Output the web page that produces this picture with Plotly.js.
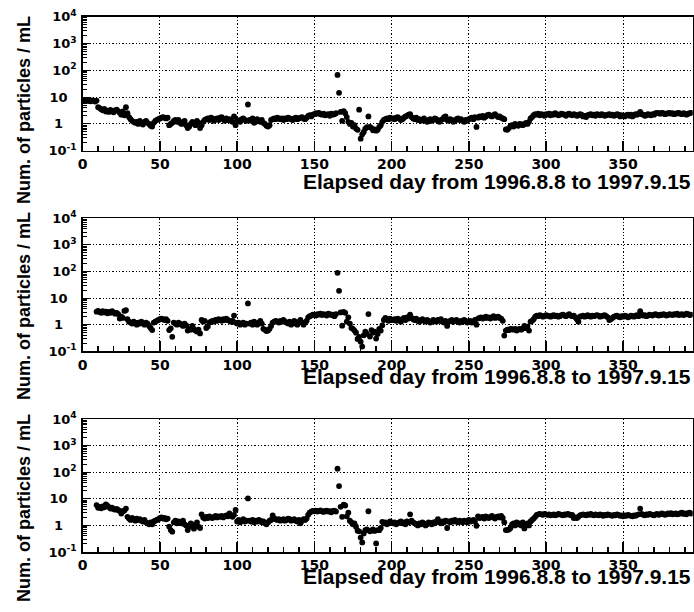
<!DOCTYPE html>
<html>
<head>
<meta charset="utf-8">
<script src="https://cdn.plot.ly/plotly-3.0.1.min.js"></script>
<style>html,body{margin:0;padding:0;background:#fff;}#chart{width:694px;height:612px;}</style>
</head>
<body>
<div id="chart"></div>
<script>
// ---------------- DATA ----------------
const days = [1,2,3,4,5,6,7,8,9,10,11,12,13,14,15,16,17,18,19,20,21,22,23,24,25,26,27,28,29,30,31,32,33,34,35,36,37,38,39,40,41,42,43,44,45,46,47,48,49,50,
51,52,53,54,55,56,57,58,59,60,61,62,63,64,65,66,67,68,69,70,71,72,73,74,75,76,77,78,79,80,81,82,83,84,85,86,87,88,89,90,91,92,93,94,95,96,97,98,99,100,
101,102,103,104,105,106,107,108,109,110,111,112,113,114,115,116,117,118,119,120,121,122,123,124,125,126,127,128,129,130,131,132,133,134,135,136,137,138,139,140,141,142,143,144,145,146,147,148,149,150,
151,152,153,154,155,156,157,158,159,160,161,162,163,164,165,166,167,168,169,170,171,172,173,174,175,176,177,178,179,180,181,182,183,184,185,186,187,188,189,190,191,192,193,194,195,196,197,198,199,200,
201,202,203,204,205,206,207,208,209,210,211,212,213,214,215,216,217,218,219,220,221,222,223,224,225,226,227,228,229,230,231,232,233,234,235,236,237,238,239,240,241,242,243,244,245,246,247,248,249,250,
251,252,253,254,255,256,257,258,259,260,261,262,263,264,265,266,267,268,269,270,271,272,273,274,275,276,277,278,279,280,281,282,283,284,285,286,287,288,289,290,291,292,293,294,295,296,297,298,299,300,
301,302,303,304,305,306,307,308,309,310,311,312,313,314,315,316,317,318,319,320,321,322,323,324,325,326,327,328,329,330,331,332,333,334,335,336,337,338,339,340,341,342,343,344,345,346,347,348,349,350,
351,352,353,354,355,356,357,358,359,360,361,362,363,364,365,366,367,368,369,370,371,372,373,374,375,376,377,378,379,380,381,382,383,384,385,386,387,388,389,390,391,392,393,394];

// Panel 1: days 1..394
const values1 = [
7.4,7.8,7.2,7.6,7.0,7.5,7.3,6.8,7.4,
4.2,3.9,3.5,3.2,3.6,2.9,3.1,2.8,3.3,3.0,2.7,3.2,3.4,3.0,2.6,2.2,2.9,2.1,4.2,2.5,
1.8,1.5,1.3,1.2,1.1,1.2,1.0,1.3,1.1,0.95,1.2,1.3,1.1,1.0,0.85,0.8,1.1,1.3,1.4,1.5,1.6,
1.7,1.8,1.7,1.6,1.7,
0.9,1.0,1.1,1.3,1.4,
1.2,1.4,1.1,1.0,1.2,1.3,0.9,0.7,0.8,1.0,1.2,1.1,0.9,1.3,1.1,0.7,0.9,1.2,1.4,
1.5,1.6,1.4,1.7,1.6,1.3,1.5,1.6,1.4,1.7,1.8,1.5,1.3,1.6,1.4,1.5,1.3,1.2,1.9,0.9,
1.4,1.3,1.2,1.5,1.6,1.4,1.3,
5.3,
1.4,1.3,1.6,1.1,1.2,1.5,1.3,1.2,1.4,1.1,1.0,0.85,0.8,0.9,
1.4,1.5,1.6,1.5,1.7,1.6,1.5,1.6,1.4,1.6,1.5,1.7,1.6,1.5,1.4,1.6,1.7,1.5,1.6,1.7,1.8,1.6,1.5,1.7,
2.0,2.1,1.9,2.2,2.3,2.5,2.4,2.6,2.3,2.2,2.4,2.1,2.2,2.3,2.0,2.4,2.2,2.3,2.5,
67,14.4,
2.8,1.3,3.0,2.5,1.8,1.2,1.0,1.1,0.8,0.9,0.67,0.6,3.4,0.28,0.41,0.5,0.67,0.75,1.9,0.77,0.7,0.58,0.62,0.56,0.6,0.77,0.9,1.2,1.4,1.5,1.6,1.5,1.7,1.6,
1.6,1.5,1.7,1.8,1.6,1.4,1.5,1.7,1.9,2.0,2.2,2.3,1.8,1.6,1.5,1.7,1.4,1.5,1.3,1.4,1.6,1.3,1.2,1.4,1.5,1.3,1.4,1.6,1.5,1.3,1.2,1.4,1.5,1.8,1.9,1.4,1.3,1.5,1.4,1.2,1.3,1.5,1.6,1.4,1.5,1.3,1.2,1.4,1.3,1.5,
1.6,1.7,1.5,1.8,0.77,1.7,1.9,1.8,2.0,1.7,1.9,2.1,2.2,2.0,1.9,2.1,2.3,2.0,1.8,1.9,1.7,1.6,1.5,
0.62,0.6,0.7,0.85,0.9,0.8,1.0,0.9,0.85,1.0,0.95,0.9,1.0,1.1,1.0,1.2,1.6,
1.8,2.1,2.3,2.2,2.4,2.1,2.3,2.2,2.0,2.3,
2.2,2.4,2.1,2.3,2.2,2.5,2.3,2.1,2.2,2.4,
2.3,2.2,2.0,2.3,2.4,2.2,2.1,2.3,2.2,2.0,
2.1,2.3,2.2,1.9,2.0,1.8,2.1,2.2,2.3,2.1,
2.2,2.0,2.3,2.2,2.1,2.3,2.2,2.0,2.1,2.2,
2.3,2.1,2.2,2.0,2.1,2.3,2.2,1.9,2.1,2.0,
1.9,2.1,2.2,2.0,2.2,1.9,2.1,2.3,2.2,2.4,
2.8,2.3,2.2,2.0,2.1,2.3,2.2,2.1,2.3,2.2,
2.5,2.6,2.5,2.4,2.6,2.5,2.3,2.4,2.5,2.6,
2.4,2.5,2.3,2.4,2.5,2.6,2.4,2.3,2.5,2.4,
2.2,2.4,2.5,2.6];

// Panel 2: days 9..394
const values2 = [
3.1,3.3,3.0,2.8,3.2,2.9,3.1,2.7,3.0,2.8,3.2,2.9,2.6,2.8,2.5,1.7,2.0,1.8,3.3,3.5,
1.6,1.3,1.2,1.1,1.3,1.2,1.0,1.2,1.1,1.3,1.1,1.0,1.2,1.1,
0.9,0.75,0.63,
1.2,1.3,1.4,1.5,1.6,1.7,1.6,1.5,1.6,1.4,
0.63,0.73,0.35,
1.2,1.1,1.0,1.2,1.1,1.0,0.9,1.1,0.95,0.6,0.7,0.65,0.9,0.7,0.6,0.55,0.65,0.47,
1.5,
1.3,1.4,0.75,0.85,1.2,1.3,1.4,1.3,1.5,1.4,1.6,1.5,1.4,1.6,1.5,1.7,1.5,1.4,1.3,1.4,2.2,1.2,
1.1,1.2,1.0,1.1,1.2,1.0,1.1,
6.3,
1.1,1.2,1.0,1.3,1.1,1.0,1.2,1.4,1.1,
0.7,0.65,0.58,0.6,0.7,0.9,
1.2,1.3,1.4,1.3,1.2,1.4,1.3,1.5,1.3,1.2,1.1,1.3,1.0,1.2,1.4,1.1,1.0,1.3,1.5,1.2,1.0,1.2,1.4,
1.9,2.1,2.2,2.4,2.3,2.2,2.5,2.4,2.6,2.3,2.5,2.4,2.2,2.6,2.5,2.3,2.4,2.1,2.5,
89,18.7,
2.9,0.92,3.0,2.8,1.3,1.9,1.1,0.75,0.7,0.6,0.5,0.29,0.35,0.23,0.15,0.4,0.55,0.45,2.5,0.36,0.63,0.5,0.55,0.3,0.45,0.7,0.6,0.95,1.5,1.8,1.6,1.4,1.7,1.5,
1.5,1.6,1.4,1.7,1.5,1.3,1.6,1.8,1.5,1.9,
1.7,2.4,1.8,1.6,1.5,1.7,1.4,1.3,1.5,1.6,
1.4,1.3,1.5,1.4,1.2,1.3,1.5,1.4,1.3,1.5,
1.4,1.6,1.3,1.2,1.4,0.9,1.3,1.4,1.5,1.3,
1.4,1.5,1.3,1.2,1.4,1.3,1.5,1.4,1.2,1.3,
1.4,1.2,1.3,1.5,1.0,1.7,1.8,1.9,1.7,1.8,
2.0,1.8,1.9,1.7,1.9,2.1,1.8,1.9,2.0,1.8,1.7,1.4,
0.39,0.6,0.65,0.62,0.7,0.68,0.65,0.7,0.6,0.66,0.7,0.65,0.72,0.9,0.75,0.85,0.6,
1.3,1.4,1.6,
2.0,2.2,2.1,2.3,2.2,2.0,2.1,2.3,2.2,2.1,
2.0,2.2,2.3,2.1,2.2,2.0,2.1,2.3,2.4,2.2,
2.1,2.3,2.5,2.2,2.1,2.2,1.9,1.6,1.3,2.0,
2.1,2.2,2.0,2.1,2.3,2.1,2.0,2.2,2.1,2.2,
2.3,2.2,2.0,2.1,2.2,2.3,2.1,1.9,1.5,1.6,
1.8,2.0,2.1,2.2,2.0,1.9,2.1,2.0,2.2,2.1,
1.9,2.0,2.2,2.1,2.0,2.2,2.3,2.1,3.2,2.4,
2.2,2.3,2.1,2.2,2.4,2.3,2.2,2.4,2.5,2.3,
2.2,2.4,2.3,2.5,2.4,2.2,2.3,2.5,2.4,2.3,
2.5,2.4,2.6,2.3,2.4,2.5,2.3,2.4,2.6,2.5,
2.3,2.4];

// Panel 3: days 9..394
const values3 = [
5.8,4.6,5.0,4.4,5.2,4.8,6.1,5.5,4.9,4.3,4.6,4.1,3.9,4.2,3.8,3.5,2.8,3.4,3.6,4.3,
2.1,1.8,1.6,1.9,1.7,1.5,1.8,1.6,1.7,
1.5,1.4,1.6,1.3,1.2,1.1,1.3,1.1,1.4,1.5,1.6,1.7,1.9,
2.0,1.8,1.9,1.7,1.8,
0.9,0.67,0.58,
1.3,1.5,1.2,1.4,1.3,1.2,1.5,1.1,1.0,0.67,0.9,1.2,1.1,0.75,1.0,1.3,0.9,0.8,
2.6,
2.0,1.8,2.1,1.9,2.2,2.0,1.9,2.1,2.3,2.0,2.2,2.1,2.3,2.0,2.2,2.4,2.2,2.8,2.3,2.1,2.5,3.8,
1.4,1.6,1.3,1.5,1.7,1.4,1.5,
10.3,
1.5,1.4,1.6,1.3,1.5,1.4,1.6,1.5,1.3,1.4,1.2,1.1,1.3,1.5,1.6,
2.4,1.8,1.7,1.6,1.7,1.5,1.6,1.7,1.5,1.6,1.8,1.7,1.5,1.6,1.7,1.5,1.4,1.6,1.2,1.5,1.7,1.6,1.8,
2.5,3.0,3.3,3.5,3.4,3.6,3.3,3.5,3.7,3.4,3.2,3.5,3.6,3.3,3.4,3.1,3.5,3.6,3.3,
136,30,
5.0,2.1,6.0,5.6,2.2,3.0,1.5,1.3,1.1,1.2,0.89,0.63,0.6,0.35,0.23,0.5,0.66,0.7,3.4,0.6,0.65,0.7,0.62,0.21,0.66,0.66,0.8,1.36,1.2,1.3,1.1,1.2,1.4,1.3,
1.2,1.3,1.1,1.2,1.3,1.4,1.2,1.3,1.1,1.4,
1.3,2.6,1.5,1.3,1.2,1.1,1.0,1.2,1.1,1.3,
1.2,1.0,1.1,1.3,1.2,1.1,1.3,1.2,1.4,1.7,
1.3,1.2,1.4,1.3,1.5,0.8,1.4,1.3,1.5,1.4,
1.6,1.4,1.3,1.5,1.4,1.3,1.5,1.4,1.3,1.6,
1.4,1.5,1.6,1.4,0.97,
2.2,1.9,2.0,2.1,1.8,2.2,2.0,1.9,2.1,2.3,2.0,1.8,2.1,2.2,2.0,2.3,1.9,
1.3,0.67,0.67,0.7,0.8,
1.1,1.2,1.0,1.3,1.1,1.2,1.0,1.3,0.77,1.1,1.2,1.0,
1.4,1.6,1.8,2.1,
2.5,2.6,2.7,2.6,2.5,2.7,2.6,2.5,2.6,2.4,
2.5,2.6,2.4,2.5,2.7,2.6,2.5,2.4,2.6,2.5,
2.7,2.6,2.4,2.5,1.9,2.0,1.9,2.1,2.4,2.5,
2.6,2.5,2.4,2.6,2.5,2.7,2.5,2.4,2.6,2.5,
2.4,2.6,2.5,2.3,2.5,2.4,2.6,2.5,2.4,2.3,
2.5,2.4,2.6,2.5,2.3,2.4,2.2,2.4,2.3,2.5,
2.4,2.3,2.2,2.4,2.3,2.5,2.6,4.3,2.7,2.5,
2.4,2.6,2.5,2.7,2.6,2.5,2.4,2.6,2.7,2.5,
2.6,2.8,2.7,2.5,2.6,2.8,2.7,2.9,2.6,2.7,
2.8,2.6,2.7,2.9,3.0,2.7,2.8,2.6,2.9,3.0,
2.8];

const xTitle = "Elapsed day from 1996.8.8 to 1997.9.15";
const yTitle = "Num. of particles / mL";
const yTickVals = [0.1, 1, 10, 100, 1000, 10000];
// figure space / no-break space pad the plain labels so they sit like the reference
const yTickText = ["10<sup>-1</sup>", "1\u2007\u00a0", "10\u2007", "10<sup>2</sup>", "10<sup>3</sup>", "10<sup>4</sup>"];
const yMinorVals = [0.2,0.3,0.4,0.5,0.6,0.7,0.8,0.9,2,3,4,5,6,7,8,9,20,30,40,50,60,70,80,90,200,300,400,500,600,700,800,900,2000,3000,4000,5000,6000,7000,8000,9000];

// ---------------- LAYOUT ----------------
const W = 694, H = 612;
const xDom = [82.7 / W, 692.7 / W];
const panels = [[16.7, 150.7], [218.3, 351.3], [419, 552]];
const xTitleY = [181.5, 376, 576.5];
const yTitleY = [110, 306, 508];

const series = [
  {x: days, y: values1},
  {x: days.slice(8), y: values2},
  {x: days.slice(8), y: values3}
];

const tickFont = {family: "DejaVu Sans", size: 14, color: "black", weight: "bold"};
const yTickFont = {family: "DejaVu Sans", size: 13, color: "black", weight: "bold"};
const gridDash = "1.3px,2px";

const data = [];
const layout = {
  width: W, height: H,
  margin: {l: 0, r: 0, t: 0, b: 0},
  paper_bgcolor: "white", plot_bgcolor: "white",
  showlegend: false,
  annotations: []
};

panels.forEach((p, i) => {
  const n = i + 1;
  const xk = n === 1 ? "x" : "x" + n;
  const yk = n === 1 ? "y" : "y" + n;
  data.push({
    type: "scatter", mode: "markers",
    x: series[i].x, y: series[i].y,
    xaxis: xk, yaxis: yk,
    marker: {color: "black", size: 5.8},
    hoverinfo: "skip"
  });
  const yDom = [1 - p[1] / H, 1 - p[0] / H];
  layout["xaxis" + (n === 1 ? "" : n)] = {
    domain: xDom, anchor: yk, range: [0, 395],
    tickmode: "linear", tick0: 0, dtick: 50,
    ticks: "inside", ticklen: 10, tickwidth: 1.5, tickcolor: "black",
    showline: true, linecolor: "black", linewidth: 1.5, mirror: true,
    showgrid: true, gridcolor: "black", gridwidth: 1, griddash: gridDash,
    zeroline: false, tickfont: tickFont, ticklabelstandoff: 0,
    minor: {tickmode: "linear", tick0: 0, dtick: 10, ticks: "inside", ticklen: 5, tickwidth: 1.5, tickcolor: "black", showgrid: false},
    fixedrange: true
  };
  layout["yaxis" + (n === 1 ? "" : n)] = {
    domain: yDom, anchor: xk, type: "log", range: [-1, 4],
    tickmode: "array", tickvals: yTickVals, ticktext: yTickText,
    ticks: "inside", ticklen: 8, tickwidth: 1, tickcolor: "black",
    showline: true, linecolor: "black", linewidth: 1.5, mirror: true,
    showgrid: true, gridcolor: "black", gridwidth: 1, griddash: gridDash,
    zeroline: false, tickfont: yTickFont, ticklabelstandoff: 2,
    minor: {tickmode: "array", tickvals: yMinorVals, ticks: "inside", ticklen: 4, tickwidth: 1, tickcolor: "black", showgrid: false},
    fixedrange: true
  };
  layout.annotations.push({
    xref: "paper", yref: "paper", x: 692.8 / W, y: 1 - xTitleY[i] / H,
    xanchor: "right", yanchor: "middle", showarrow: false,
    text: xTitle,
    font: {family: "Liberation Sans, Arial, sans-serif", size: 21, color: "black", weight: "bold"}
  });
  layout.annotations.push({
    xref: "paper", yref: "paper", x: 24 / W, y: 1 - yTitleY[i] / H,
    xanchor: "center", yanchor: "middle", showarrow: false, textangle: -90,
    text: yTitle,
    font: {family: "Liberation Sans, Arial, sans-serif", size: 18, color: "black", weight: "bold"}
  });
});

Plotly.newPlot("chart", data, layout, {staticPlot: true, displayModeBar: false});
</script>
</body>
</html>
